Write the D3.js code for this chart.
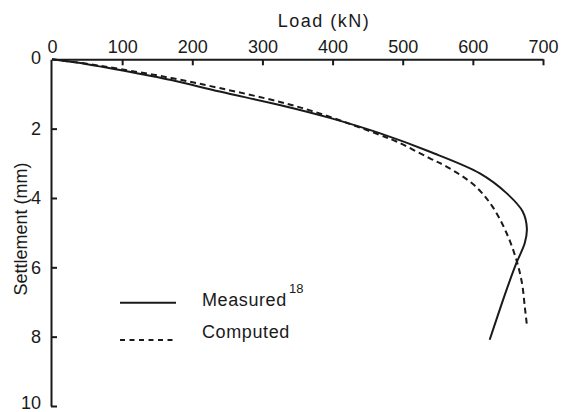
<!DOCTYPE html>
<html><head><meta charset="utf-8">
<script src="https://cdn.jsdelivr.net/npm/d3@7"></script>
<style>body{margin:0;background:#fff}svg{display:block}text{font-family:"Liberation Sans",Arial,sans-serif;fill:#1a1a1a}</style>
</head><body>
<script>
const loadTicks = [0,100,200,300,400,500,600,700];
const settlementTicks = [0,2,4,6,8,10];
const measuredLoad = [0,50,97,170,239,329,396,467,538,610,648,671,677,674,662,648,624];
const measuredSettlement = [0,0.14,0.31,0.60,0.93,1.34,1.69,2.13,2.66,3.29,3.86,4.39,4.88,5.30,5.88,6.65,8.09];
const computedLoad = [0,50,97,170,239,325,372,420,467,491,538,563,603,628,648,662,670,674,677];
const computedSettlement = [0,0.13,0.28,0.54,0.83,1.23,1.50,1.83,2.18,2.37,2.85,3.10,3.65,4.25,5.01,5.78,6.45,7.13,7.66];
const seriesNames = ["Measured","Computed"];

const W=561,H=412;
const svg=d3.select("body").append("svg").attr("width",W).attr("height",H);
const x=d3.scaleLinear().domain([0,700]).range([52,543]);
const y=d3.scaleLinear().domain([0,10]).range([59.3,406]);
const ink="#1a1a1a";

const xa=svg.append("g").attr("transform",`translate(0,${y(0)})`)
  .call(d3.axisTop(x).tickValues(loadTicks).tickSizeInner(-6).tickSizeOuter(0).tickPadding(6));
const ya=svg.append("g").attr("transform",`translate(${x(0)-1},0)`)
  .call(d3.axisLeft(y).tickValues(settlementTicks).tickSizeInner(-6).tickSizeOuter(0).tickPadding(10));
[xa,ya].forEach(a=>{
  a.selectAll("path,line").attr("stroke",ink).attr("stroke-width",2);
  a.selectAll("text").attr("font-size",18).attr("fill",ink).style("font-family",'"Liberation Sans",Arial,sans-serif');
});
ya.selectAll(".tick line").filter(d=>d===0).remove();
xa.selectAll(".tick line").filter(d=>d===0).remove();
ya.selectAll(".tick text").filter(d=>d===10).attr("dy","0.12em");
ya.selectAll(".tick text").filter(d=>d===0).attr("dy","0.22em");

svg.append("text").attr("x",324).attr("y",27).attr("text-anchor","middle")
  .attr("font-size",18).attr("letter-spacing",1.5).text("Load (kN)");
svg.append("text").attr("transform","translate(21,229) rotate(-90)").attr("text-anchor","middle")
  .attr("dominant-baseline","central").attr("font-size",18).text("Settlement (mm)");

const line=d3.line().x(d=>x(d[0])).y(d=>y(d[1])).curve(d3.curveCatmullRom.alpha(0.5));
const mData=measuredLoad.map((l,i)=>[l,measuredSettlement[i]]);
const cData=computedLoad.map((l,i)=>[l,computedSettlement[i]]);
svg.append("path").attr("d",line(cData)).attr("fill","none").attr("stroke",ink)
  .attr("stroke-width",2).attr("stroke-dasharray","6,4");
svg.append("path").attr("d",line(mData)).attr("fill","none").attr("stroke",ink).attr("stroke-width",2);

// legend
const lg=svg.append("g");
lg.append("line").attr("x1",120).attr("x2",176).attr("y1",302.7).attr("y2",302.7).attr("stroke",ink).attr("stroke-width",2);
lg.append("line").attr("x1",120).attr("x2",176).attr("y1",340).attr("y2",340).attr("stroke",ink).attr("stroke-width",2).attr("stroke-dasharray","5,4.5");
lg.append("text").attr("x",202).attr("y",305.5).attr("font-size",18).attr("letter-spacing",0.6).text(seriesNames[0]);
lg.append("text").attr("x",289).attr("y",293).attr("font-size",13).text("18");
lg.append("text").attr("x",202).attr("y",338).attr("font-size",18).attr("letter-spacing",0.6).text(seriesNames[1]);
</script>
</body></html>
